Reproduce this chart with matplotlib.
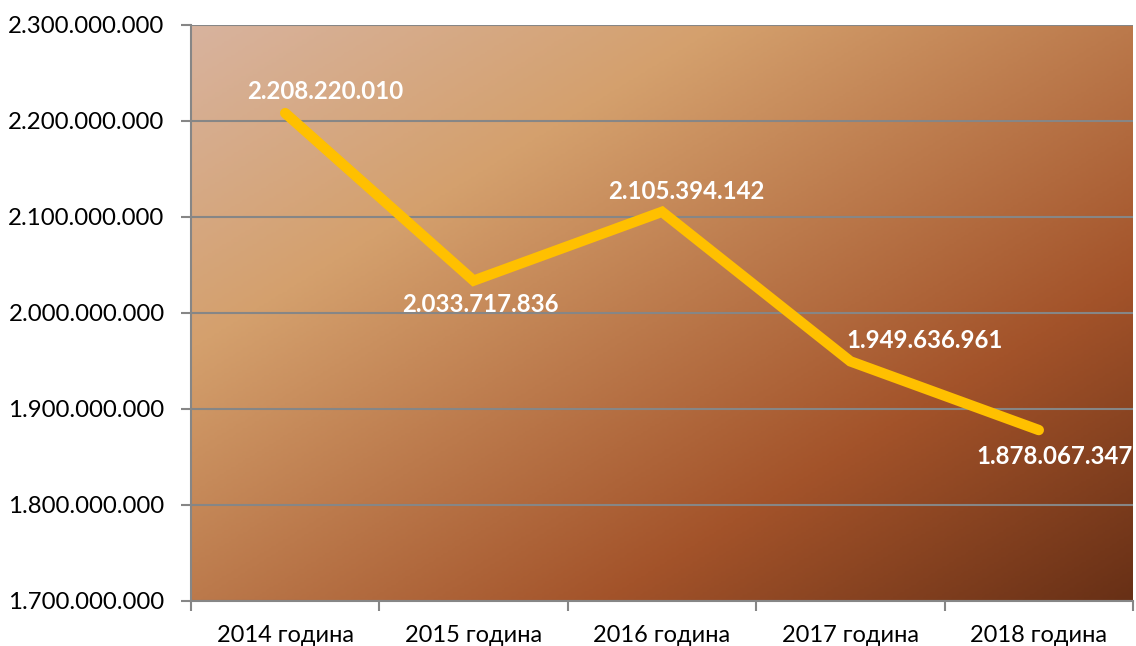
import matplotlib
matplotlib.use("Agg")
import matplotlib.pyplot as plt
import numpy as np
from matplotlib.colors import LinearSegmentedColormap
from matplotlib.ticker import FuncFormatter, FixedLocator

categories = ["2014 година", "2015 година", "2016 година", "2017 година", "2018 година"]
values = [2208220010, 2033717836, 2105394142, 1949636961, 1878067347]
labels = ["2.208.220.010", "2.033.717.836", "2.105.394.142", "1.949.636.961", "1.878.067.347"]
label_offsets_px = [(40, 22), (7, -24), (24, 20), (74, 21), (16, -26)]

plt.rcParams['font.family'] = ['Lato', 'DejaVu Sans']

W, H = 1136, 646
fig = plt.figure(figsize=(W / 100, H / 100), dpi=100)
left, right, top, bottom = 191, 1133, 25, 601
ax = fig.add_axes([left / W, 1 - bottom / H, (right - left) / W, (bottom - top) / H])

# diagonal gradient background
cmap = LinearSegmentedColormap.from_list("wood", [
    (0.0, "#d8b39e"),
    (0.28, "#d4a06d"),
    (0.72, "#a3532a"),
    (1.0, "#683016"),
])
nx, ny = 400, 250
xn = np.linspace(0, 1, nx)[None, :]
yn = np.linspace(0, 1, ny)[:, None]
t = (xn + yn) / 2
ax.imshow(t, cmap=cmap, extent=[0, 1, 0, 1], transform=ax.transAxes,
          aspect='auto', origin='upper', zorder=0, vmin=0, vmax=1)

x = np.arange(len(categories))
ax.set_xlim(-0.5, len(categories) - 0.5)
ax.set_ylim(1.7e9, 2.3e9)

ax.yaxis.set_major_locator(FixedLocator(np.arange(1.7e9, 2.3e9 + 1, 1e8)))
ax.yaxis.set_major_formatter(FuncFormatter(lambda v, p: f"{int(round(v)):,}".replace(",", ".")))
ax.grid(axis='y', color='#868686', linewidth=1.5, zorder=1)
ax.set_axisbelow(False)

ax.plot(x, values, color='#ffc000', linewidth=7.5, solid_capstyle='round',
        solid_joinstyle='miter', zorder=3)

for xi, v, lab, (dx, dy) in zip(x, values, labels, label_offsets_px):
    ax.annotate(lab, (xi, v), xytext=(dx, dy), textcoords='offset pixels',
                ha='center', va='center', color='white', fontsize=17.3,
                fontweight='bold', zorder=4, annotation_clip=False)

ax.set_xticks(x)
ax.set_xticklabels(categories)
ax.set_xticks(np.arange(-0.5, len(categories)), minor=True)
ax.tick_params(axis='x', which='major', length=0, pad=17, labelsize=17)
ax.tick_params(axis='x', which='minor', length=7, width=1.5, color='#868686')
ax.tick_params(axis='y', length=7, width=1.5, color='#868686', labelsize=17.3, pad=12)

for s in ['top', 'right']:
    ax.spines[s].set_visible(False)
for s in ['left', 'bottom']:
    ax.spines[s].set_color('#868686')
    ax.spines[s].set_linewidth(1.5)

fig.savefig("out.png", dpi=100)
